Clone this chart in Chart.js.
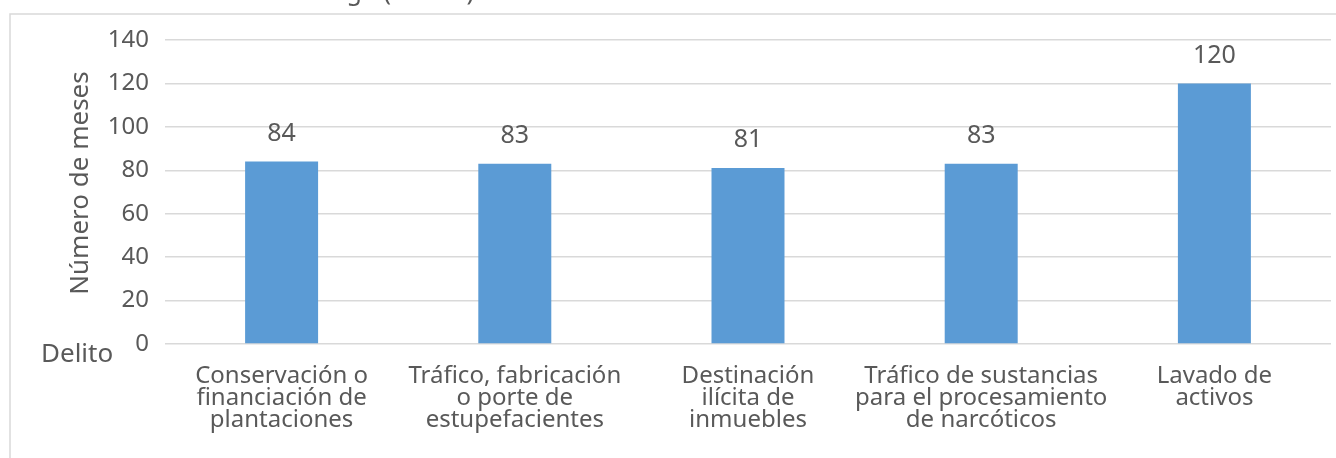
<!DOCTYPE html>
<html>
<head>
<meta charset="utf-8">
<script src="https://cdn.jsdelivr.net/npm/chart.js@4.4.1/dist/chart.umd.min.js"></script>
<style>
  html, body { margin: 0; padding: 0; background: #ffffff; }
  #wrap { width: 1336px; height: 458px; position: relative; }
</style>
</head>
<body>
<div id="wrap"><canvas id="c" width="1336" height="458"></canvas></div>
<script>
const categories = [
  ["Conservación o", "financiación de", "plantaciones"],
  ["Tráfico, fabricación", "o porte de", "estupefacientes"],
  ["Destinación", "ilícita de", "inmuebles"],
  ["Tráfico de sustancias", "para el procesamiento", "de narcóticos"],
  ["Lavado de", "activos"]
];
const months = [84, 83, 81, 83, 120];
const yTicks = [0, 20, 40, 60, 80, 100, 120, 140];
const chartTitle = "Rango (meses)";
const yTitle = "Número de meses";
const xTitle = "Delito";

const FONT = "'Noto Sans', 'Open Sans', sans-serif";
const GREY = "#595959";

const decor = {
  id: 'decor',
  beforeDraw(chart) {
    const ctx = chart.ctx;
    ctx.save();
    ctx.fillStyle = '#ffffff';
    ctx.fillRect(0, 0, chart.width, chart.height);
    ctx.strokeStyle = '#d9d9d9';
    ctx.lineWidth = 1.5;
    ctx.strokeRect(10, 14, chart.width + 20, chart.height + 20);
    ctx.restore();
  },
  afterDraw(chart) {
    const ctx = chart.ctx;
    ctx.save();
    ctx.fillStyle = GREY;
    // cut-off title at the top
    ctx.font = "25px " + FONT;
    ctx.textAlign = 'right';
    ctx.textBaseline = 'alphabetic';
    ctx.fillText(chartTitle, 474, 0);
    // y-axis title
    ctx.font = "26px " + FONT;
    ctx.translate(81, 183);
    ctx.rotate(-Math.PI / 2);
    ctx.textAlign = 'center';
    ctx.textBaseline = 'middle';
    ctx.fillText(yTitle, 0, 0);
    ctx.restore();
    ctx.save();
    ctx.fillStyle = GREY;
    ctx.font = "26px " + FONT;
    ctx.textAlign = 'left';
    ctx.textBaseline = 'middle';
    ctx.fillText(xTitle, 41, 355);
    // data labels
    const meta = chart.getDatasetMeta(0);
    ctx.font = "25px " + FONT;
    ctx.textAlign = 'center';
    meta.data.forEach((bar, i) => {
      ctx.fillText(String(months[i]), bar.x, bar.y - 28);
    });
    ctx.restore();
  }
};

new Chart(document.getElementById('c'), {
  type: 'bar',
  data: {
    labels: categories,
    datasets: [{
      data: months,
      backgroundColor: '#5b9bd5',
      borderWidth: 0,
      categoryPercentage: 1.0,
      barPercentage: 0.313
    }]
  },
  options: {
    responsive: false,
    animation: false,
    events: [],
    layout: { padding: { top: 40, right: 5, left: 0, bottom: 0 } },
    plugins: {
      legend: { display: false },
      tooltip: { enabled: false },
      title: { display: false }
    },
    scales: {
      x: {
        grid: { display: false, drawTicks: false },
        border: { display: false },
        ticks: {
          color: GREY,
          font: { family: FONT, size: 24, lineHeight: 0.92 },
          maxRotation: 0,
          minRotation: 0,
          autoSkip: false,
          padding: 21
        },
        afterFit(scale) { scale.height = 114; }
      },
      y: {
        min: 0,
        max: 140,
        afterBuildTicks(scale) { scale.ticks = yTicks.map(v => ({ value: v })); },
        grid: { color: '#d9d9d9', lineWidth: 1.5, drawTicks: false },
        border: { display: false },
        ticks: {
          color: GREY,
          font: { family: FONT, size: 24 },
          padding: 16
        },
        afterFit(scale) { scale.width = 165; }
      }
    }
  },
  plugins: [decor]
});
</script>
</body>
</html>
